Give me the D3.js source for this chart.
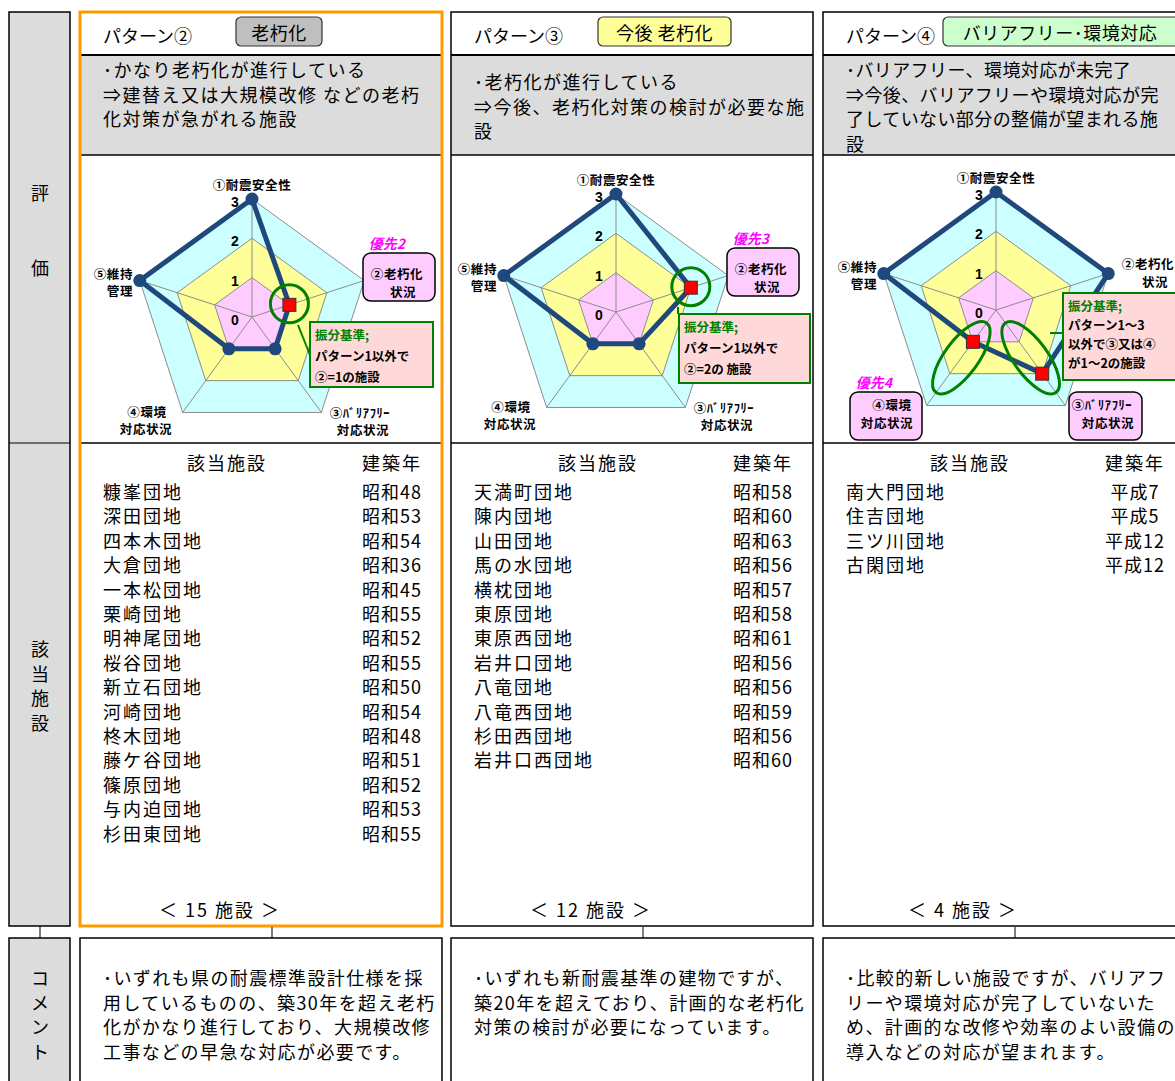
<!DOCTYPE html>
<html>
<head>
<meta charset="utf-8">
<script src="https://cdn.jsdelivr.net/npm/d3@7"></script>
<style>
body { margin: 0; background: #fff; }
svg { display: block; }
</style>
</head>
<body>
<div id="chart"></div>
<script>
var W = 1175, H = 1081;
var JP = "'Noto Sans CJK JP', 'Noto Sans', sans-serif";
var NUM = "'Liberation Sans', Arial, sans-serif";

// ---- data ----
var panelTitles = ["パターン②", "パターン③", "パターン④"];
var badgeLabels = ["老朽化", "今後 老朽化", "バリアフリー･環境対応"];
var descLines = [
    ["･かなり老朽化が進行している", "⇒建替え又は大規模改修 などの老朽", "化対策が急がれる施設"],
    ["･老朽化が進行している", "⇒今後、老朽化対策の検討が必要な施", "設"],
    ["･バリアフリー、環境対応が未完了", "⇒今後、バリアフリーや環境対応が完", "了していない部分の整備が望まれる施", "設"]
];
var axisLabels = [["①耐震安全性"], ["②老朽化", "状況"], ["③ﾊﾞﾘｱﾌﾘｰ", "対応状況"], ["④環境", "対応状況"], ["⑤維持", "管理"]];
var levelTicks = [0, 1, 2, 3];
var scores = [
    [3, 1, 1, 1, 3],
    [3, 2, 1, 1, 3],
    [3, 3, 2, 1, 3]
];
var highlighted = [[1], [1], [2, 3]];
var priorityLabels = ["優先2", "優先3", "優先4"];
var criteriaLines = [
    ["振分基準;", "パターン1以外で", "②=1の施設"],
    ["振分基準;", "パターン1以外で", "②=2の 施設"],
    ["振分基準;", "パターン1～3", "以外で③又は④", "が1～2の施設"]
];
var listHeader = ["該当施設", "建築年"];
var facilities = [
    ["糠峯団地", "深田団地", "四本木団地", "大倉団地", "一本松団地", "栗崎団地", "明神尾団地", "桜谷団地",
     "新立石団地", "河崎団地", "柊木団地", "藤ケ谷団地", "篠原団地", "与内迫団地", "杉田東団地"],
    ["天満町団地", "陳内団地", "山田団地", "馬の水団地", "横枕団地", "東原団地", "東原西団地", "岩井口団地",
     "八竜団地", "八竜西団地", "杉田西団地", "岩井口西団地"],
    ["南大門団地", "住吉団地", "三ツ川団地", "古閑団地"]
];
var builtYears = [
    ["昭和48", "昭和53", "昭和54", "昭和36", "昭和45", "昭和55", "昭和52", "昭和55",
     "昭和50", "昭和54", "昭和48", "昭和51", "昭和52", "昭和53", "昭和55"],
    ["昭和58", "昭和60", "昭和63", "昭和56", "昭和57", "昭和58", "昭和61", "昭和56",
     "昭和56", "昭和59", "昭和56", "昭和60"],
    ["平成7", "平成5", "平成12", "平成12"]
];
var commentLines = [
    ["･いずれも県の耐震標準設計仕様を採", "用しているものの、築30年を超え老朽", "化がかなり進行しており、大規模改修", "工事などの早急な対応が必要です。"],
    ["･いずれも新耐震基準の建物ですが、", "築20年を超えており、計画的な老朽化", "対策の検討が必要になっています。"],
    ["･比較的新しい施設ですが、バリアフ", "リーや環境対応が完了していないた", "め、計画的な改修や効率のよい設備の", "導入などの対応が望まれます。"]
];
var rowLabels = [["評", "価"], ["該", "当", "施", "設"], ["コ", "メ", "ン", "ト"]];

// ---- layout ----
var panelX = [80, 451, 823];
var panelW = [362, 362, 380];
var panelStroke = ["#ff9900", "#000", "#000"];
var badgeBox = [[156, 86], [147, 133], [120, 250]];
var badgeFill = ["#bfbfbf", "#ffff99", "#ccffcc"];
var radarC = [[172, 317], [165, 312], [173, 310]];
var descY = [69, 81, 69];
var descSpacing = [1.5, 1.5, 0.4];
var critBox = [[58, 5, 123, 65], [63, 2, 131, 69], [67, -17, 125, 87]];
var critLink = [[46, 8, 58, 38], [62, -5, 62, 2], [54, 23, 67, 23]];

var svg = d3.select("#chart").append("svg")
    .attr("width", W)
    .attr("height", H);

function addText(g, x, y, str, size, opts) {
    opts = opts || {};
    return g.append("text")
        .attr("x", x)
        .attr("y", y)
        .attr("dominant-baseline", "central")
        .attr("text-anchor", opts.anchor || "start")
        .attr("font-family", opts.family || JP)
        .attr("font-size", size)
        .attr("font-weight", opts.weight || "normal")
        .attr("font-style", opts.style || "normal")
        .attr("letter-spacing", opts.spacing || 0)
        .attr("fill", opts.fill || "#000")
        .text(str);
}

// left column
var left = svg.append("g");
left.append("rect").attr("x", 9).attr("y", 12).attr("width", 61).attr("height", 914)
    .attr("fill", "#dcdcdc").attr("stroke", "#000").attr("stroke-width", 1.5);
left.append("line").attr("x1", 9).attr("x2", 70).attr("y1", 443).attr("y2", 443)
    .attr("stroke", "#000").attr("stroke-width", 1.2);
left.append("rect").attr("x", 9).attr("y", 938).attr("width", 61).attr("height", 160)
    .attr("fill", "#dcdcdc").attr("stroke", "#000").attr("stroke-width", 1.5);
left.append("line").attr("x1", 40).attr("x2", 40).attr("y1", 926).attr("y2", 938)
    .attr("stroke", "#000").attr("stroke-width", 1);

var rowLabelY = [[192, 267], [648, 672.5, 697, 721.5], [977, 1001.5, 1026, 1050.5]];
rowLabels.forEach(function (chars, k) {
    chars.forEach(function (c, j) {
        addText(left, 40, rowLabelY[k][j], c, 18, { anchor: "middle" });
    });
});

// radar
function drawRadar(g, p) {
    var cx = radarC[p][0] + panelX[p], cy = radarC[p][1];
    var n = axisLabels.length;
    var r = d3.scaleLinear().domain([0, d3.max(levelTicks)]).range([0, 118]);
    var ang = d3.scaleLinear().domain([0, n]).range([0, 2 * Math.PI]);
    function pt(i, v) {
        var a = ang(i);
        return [cx + r(v) * Math.sin(a), cy - r(v) * Math.cos(a)];
    }
    var closed = d3.line().curve(d3.curveLinearClosed);
    var ringFill = { 3: "#ccffff", 2: "#ffff99", 1: "#ffccff" };

    levelTicks.filter(function (v) { return v > 0; }).reverse().forEach(function (v) {
        g.append("path")
            .attr("d", closed(d3.range(n).map(function (i) { return pt(i, v); })))
            .attr("fill", ringFill[v])
            .attr("stroke", "#8c8c8c")
            .attr("stroke-width", 1);
    });
    d3.range(n).forEach(function (i) {
        var e = pt(i, d3.max(levelTicks));
        g.append("line").attr("x1", cx).attr("y1", cy).attr("x2", e[0]).attr("y2", e[1])
            .attr("stroke", "#8c8c8c").attr("stroke-width", 1);
    });
    levelTicks.forEach(function (v) {
        addText(g, cx - 17, cy - r(v) + 3, String(v), 14, { anchor: "middle", family: NUM, weight: "bold" });
    });

    var vals = scores[p];
    g.append("path")
        .attr("d", closed(vals.map(function (v, i) { return pt(i, v); })))
        .attr("fill", "none")
        .attr("stroke", "#1f497d")
        .attr("stroke-width", 5)
        .attr("stroke-linejoin", "round");

    vals.forEach(function (v, i) {
        var q = pt(i, v);
        if (highlighted[p].indexOf(i) >= 0) {
            g.append("rect").attr("x", q[0] - 6.5).attr("y", q[1] - 6.5)
                .attr("width", 13).attr("height", 13)
                .attr("fill", "#ff0000").attr("stroke", "#333").attr("stroke-width", 1);
        } else {
            g.append("circle").attr("cx", q[0]).attr("cy", q[1]).attr("r", 6.5)
                .attr("fill", "#1f497d");
        }
    });

    // green marks round the points that decide the pattern
    highlighted[p].forEach(function (i) {
        if (highlighted[p].length === 1) {
            var q = pt(i, vals[i]);
            g.append("circle").attr("cx", q[0]).attr("cy", q[1] - 1).attr("r", 19)
                .attr("fill", "none").attr("stroke", "#008000").attr("stroke-width", 3);
        } else {
            var m = pt(i, 1.5);
            g.append("ellipse").attr("rx", 17).attr("ry", 43)
                .attr("transform", "translate(" + m[0] + "," + m[1] + ") rotate(" + (ang(i) * 180 / Math.PI) + ")")
                .attr("fill", "none").attr("stroke", "#008000").attr("stroke-width", 3);
        }
    });

    var lk = critLink[p];
    g.append("line").attr("x1", cx + lk[0]).attr("y1", cy + lk[1]).attr("x2", cx + lk[2]).attr("y2", cy + lk[3])
        .attr("stroke", "#008000").attr("stroke-width", 2);
    var cb = critBox[p];
    g.append("rect").attr("x", cx + cb[0]).attr("y", cy + cb[1]).attr("width", cb[2]).attr("height", cb[3])
        .attr("fill", "#ffd9d9").attr("stroke", "#008000").attr("stroke-width", 2);
    var step = criteriaLines[p].length > 3 ? 19 : 21;
    criteriaLines[p].forEach(function (s, j) {
        addText(g, cx + cb[0] + 5, cy + cb[1] + 12 + j * step, s, 12.5,
            { weight: "bold", fill: j === 0 ? "#008000" : "#000" });
    });

    // axis labels
    var plain = [
        [[0, -133]],
        [[152, -47], [159, -29]],
        [[108, 95], [111, 112]],
        [[-105, 94], [-106, 111]],
        [[-119, -44], [-119, -27]]
    ];
    var anchors = ["middle", "middle", "middle", "middle", "end"];
    var boxed = {
        1: { box: [111, -64, 72, 48], lines: [[145, -44], [151, -26]] },
        2: { box: [73, 82, 73, 48], lines: [[106, 94], [112, 112]] },
        3: { box: [-146, 82, 72, 48], lines: [[-104, 94], [-109, 112]] }
    };
    axisLabels.forEach(function (lab, i) {
        var pos = plain[i];
        if (highlighted[p].indexOf(i) >= 0 && boxed[i]) {
            var b = boxed[i].box;
            g.append("rect").attr("x", cx + b[0]).attr("y", cy + b[1]).attr("width", b[2]).attr("height", b[3])
                .attr("rx", 8).attr("fill", "#ffccff").attr("stroke", "#000").attr("stroke-width", 1.5);
            pos = boxed[i].lines;
            var showPrio = (p < 2 && i === 1) || (p === 2 && i === 3);
            if (showPrio) {
                addText(g, cx + b[0] + b[2] / 2 - 12, cy + b[1] - 10, priorityLabels[p], 14,
                    { anchor: "middle", weight: "bold", style: "italic", fill: "#ff00ff" });
            }
        }
        lab.forEach(function (s, j) {
            addText(g, cx + pos[j][0], cy + pos[j][1], s, 12.5, { anchor: anchors[i], weight: "bold", spacing: 0.6 });
        });
    });
}

// panels
panelX.forEach(function (x0, p) {
    var g = svg.append("g");
    var w = panelW[p];

    g.append("rect").attr("x", x0).attr("y", 55).attr("width", w).attr("height", 100).attr("fill", "#dcdcdc");
    drawRadar(g, p);

    // title row
    addText(g, x0 + 23, 35, panelTitles[p], 18);
    var bb = badgeBox[p];
    g.append("rect").attr("x", x0 + bb[0]).attr("y", 17).attr("width", bb[1]).attr("height", 29)
        .attr("rx", 5).attr("fill", badgeFill[p]).attr("stroke", "#333").attr("stroke-width", 1.2);
    addText(g, x0 + bb[0] + Math.min(bb[1], 1175 - x0 - bb[0] + 2) / 2, 32, badgeLabels[p], 18,
        { anchor: "middle", spacing: 0.5 });

    descLines[p].forEach(function (s, j) {
        addText(g, x0 + 23, descY[p] + j * 24.5, s, 18, { spacing: descSpacing[p] });
    });

    // list
    addText(g, x0 + 147, 462, listHeader[0], 18, { anchor: "middle", spacing: 2 });
    addText(g, x0 + 312, 462, listHeader[1], 18, { anchor: "middle", spacing: 2 });
    facilities[p].forEach(function (s, j) {
        addText(g, x0 + 23, 491 + j * 24.4, s, 18, { spacing: 2 });
        addText(g, x0 + 312, 491 + j * 24.4, builtYears[p][j], 18, { anchor: "middle", spacing: 1 });
    });
    addText(g, x0 + 140, 909, "＜ " + facilities[p].length + " 施設 ＞", 18, { anchor: "middle", spacing: 2 });

    // dividers + frame
    [[55, 2], [155, 1.5], [443, 1.5]].forEach(function (d) {
        g.append("line").attr("x1", x0).attr("x2", x0 + w).attr("y1", d[0]).attr("y2", d[0])
            .attr("stroke", "#000").attr("stroke-width", d[1]);
    });
    g.append("rect").attr("x", x0).attr("y", 12).attr("width", w).attr("height", 914)
        .attr("fill", "none").attr("stroke", panelStroke[p]).attr("stroke-width", p === 0 ? 3 : 1.5);

    // comment
    g.append("line").attr("x1", x0 + 192).attr("x2", x0 + 192).attr("y1", 927).attr("y2", 938)
        .attr("stroke", "#000").attr("stroke-width", 1);
    g.append("rect").attr("x", x0).attr("y", 938).attr("width", w).attr("height", 160)
        .attr("fill", "#fff").attr("stroke", "#000").attr("stroke-width", 1.5);
    commentLines[p].forEach(function (s, j) {
        addText(g, x0 + 23, 977 + j * 24.6, s, 18, { spacing: 1.4 });
    });
});
</script>
</body>
</html>
